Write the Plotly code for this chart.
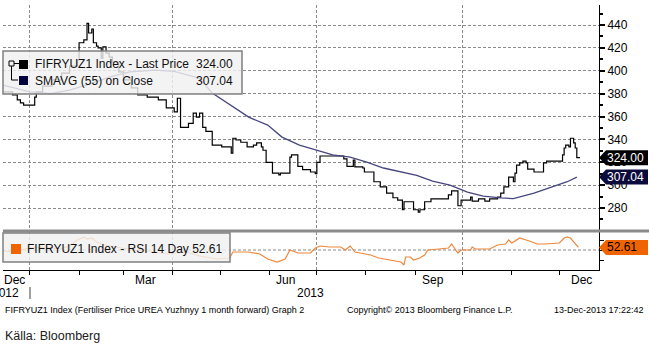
import plotly.graph_objects as go

# ---- data -------------------------------------------------------------
price_dates = [
    "2012-12-15", "2012-12-21", "2012-12-24", "2012-12-26", "2012-12-28",
    "2013-01-04", "2013-01-05", "2013-01-09", "2013-01-15", "2013-01-21",
    "2013-01-26", "2013-01-31", "2013-02-01", "2013-02-04", "2013-02-06",
    "2013-02-07", "2013-02-09", "2013-02-10", "2013-02-12", "2013-02-13",
    "2013-02-15", "2013-02-16", "2013-02-18", "2013-02-20", "2013-02-22",
    "2013-02-26", "2013-03-01", "2013-03-06", "2013-03-10", "2013-03-16",
    "2013-03-23", "2013-03-28", "2013-04-02", "2013-04-04", "2013-04-06",
    "2013-04-11", "2013-04-14", "2013-04-16", "2013-04-18", "2013-04-20",
    "2013-04-22", "2013-04-26", "2013-05-02", "2013-05-08", "2013-05-09",
    "2013-05-11", "2013-05-14", "2013-05-18", "2013-05-22", "2013-05-24",
    "2013-05-27", "2013-05-28", "2013-05-30", "2013-06-03", "2013-06-07",
    "2013-06-08", "2013-06-14", "2013-06-15", "2013-06-19", "2013-06-22",
    "2013-06-27", "2013-06-30", "2013-07-01", "2013-07-03", "2013-07-18",
    "2013-07-20", "2013-07-24", "2013-07-25", "2013-07-30", "2013-07-31",
    "2013-08-06", "2013-08-10", "2013-08-14", "2013-08-18", "2013-08-21",
    "2013-08-24", "2013-08-25", "2013-08-31", "2013-09-03", "2013-09-04",
    "2013-09-07", "2013-09-11", "2013-09-22", "2013-09-24", "2013-09-28",
    "2013-09-30", "2013-10-06", "2013-10-07", "2013-10-11", "2013-10-15",
    "2013-10-18", "2013-10-23", "2013-10-25", "2013-10-27", "2013-10-30",
    "2013-11-02", "2013-11-03", "2013-11-04", "2013-11-06", "2013-11-08",
    "2013-11-10", "2013-11-11", "2013-11-15", "2013-11-21", "2013-11-23",
    "2013-12-03", "2013-12-04", "2013-12-05", "2013-12-07", "2013-12-08",
    "2013-12-10", "2013-12-11", "2013-12-12", "2013-12-14",
]
price_vals = [
    381.5, 379, 374.5, 372, 370,
    377, 381.5, 386.5, 392, 398,
    404, 409.5, 424.5, 427, 441.5,
    433, 436.5, 424.5, 421.5, 420,
    411, 421, 415.5, 412, 407.5,
    399, 392, 385, 379, 377,
    374.5, 367.5, 364, 376, 350.5,
    354, 363, 359.5, 363, 350.5,
    347, 335, 333.5, 328, 341,
    339.5, 337.5, 333.5, 335, 337,
    333.5, 330.5, 320, 310.5, 309,
    310.5, 324.5, 326.5, 316.5, 313.5,
    311.5, 310, 320, 325.5, 323,
    316.5, 322, 316, 315, 311.5,
    303, 298.5, 293, 289, 287,
    278.5, 285.5, 278.5, 276.5, 278.5,
    285.5, 288, 291.5, 295, 282,
    287, 289.5, 286, 288, 286,
    288, 289.5, 293, 298.5, 307,
    303, 310.5, 317.5, 319.5, 321,
    319.5, 314, 311.5, 319.5, 321,
    326.5, 332.5, 335, 333.5, 341,
    337, 332.5, 324, 324,
]

sma_dates = [
    "2012-12-15", "2013-01-01", "2013-01-14", "2013-01-26", "2013-02-08",
    "2013-02-20", "2013-03-05", "2013-03-21", "2013-04-02", "2013-04-18",
    "2013-04-26", "2013-05-09", "2013-05-19", "2013-05-31", "2013-06-09",
    "2013-06-20", "2013-06-26", "2013-07-11", "2013-07-22", "2013-08-02",
    "2013-08-12", "2013-08-23", "2013-09-02", "2013-09-12", "2013-09-23",
    "2013-10-04", "2013-10-14", "2013-10-25", "2013-11-02", "2013-11-15",
    "2013-11-26", "2013-12-06", "2013-12-12",
]
sma_vals = [
    387.5, 381.5, 380, 383, 388.5,
    394.5, 399, 400.5, 399.5, 393.5,
    380.5, 368.5, 359.5, 352.5, 342,
    335, 332.5, 326.5, 324.5, 320,
    315, 311.5, 308.5, 303.5, 300,
    294, 290.5, 288.8, 288.3, 293,
    298.5, 303, 307.04,
]

rsi_dates = [
    "2012-12-15", "2012-12-21", "2012-12-26", "2013-01-01", "2013-01-10",
    "2013-01-20", "2013-01-26", "2013-01-31", "2013-02-04", "2013-02-06",
    "2013-02-09", "2013-02-12", "2013-02-17", "2013-02-25", "2013-03-07",
    "2013-03-17", "2013-03-28", "2013-04-10", "2013-04-18", "2013-04-29",
    "2013-05-07", "2013-05-09", "2013-05-19", "2013-05-26", "2013-05-31",
    "2013-06-06", "2013-06-11", "2013-06-14", "2013-06-19", "2013-06-27",
    "2013-06-30", "2013-07-03", "2013-07-09", "2013-07-16", "2013-07-19",
    "2013-07-22", "2013-07-25", "2013-08-04", "2013-08-09", "2013-08-23",
    "2013-08-25", "2013-08-26", "2013-08-29", "2013-08-31", "2013-09-04",
    "2013-09-07", "2013-09-09", "2013-09-16", "2013-09-22", "2013-09-24",
    "2013-09-28", "2013-09-30", "2013-10-06", "2013-10-07", "2013-10-09",
    "2013-10-18", "2013-10-23", "2013-10-28", "2013-10-30", "2013-11-01",
    "2013-11-06", "2013-11-12", "2013-11-17", "2013-11-22", "2013-12-01",
    "2013-12-04", "2013-12-06", "2013-12-08", "2013-12-11", "2013-12-13",
]
rsi_vals = [
    49, 48, 50, 52, 53,
    51, 54, 60, 63, 61,
    62, 58, 55, 53, 50,
    49, 46, 48, 44, 41,
    42, 48, 48, 46, 41,
    38, 41, 50, 47, 47,
    52, 54, 53, 53, 50,
    54, 48, 45, 42, 38,
    35, 43, 43, 40, 42,
    45, 50, 51, 52, 56,
    47, 50, 50, 53, 51,
    51, 55, 56, 60, 57,
    62, 59, 56, 56, 57,
    62, 63, 62, 57, 52.61,
]

last_price = 324.00
last_sma = 307.04
last_rsi = 52.61

price_ticks = [280, 300, 320, 340, 360, 380, 400, 420, 440]
quarter_starts = ["2013-01-01", "2013-04-01", "2013-07-01", "2013-10-01"]
other_month_starts = ["2013-02-01", "2013-03-01", "2013-05-01", "2013-06-01",
                      "2013-08-01", "2013-09-01", "2013-11-01", "2013-12-01"]
month_labels = ["Dec", "Mar", "Jun", "Sep", "Dec"]
month_label_dates = ["2012-12-22", "2013-03-15", "2013-06-11", "2013-09-12", "2013-12-15"]

# ---- geometry helpers (canvas pixels -> paper fractions) ---------------
W, H = 649, 349
ML, MR, MT, MB = 3, 50, 5, 79
PW, PH = W - ML - MR, H - MT - MB


def fx(px):
    return (px - ML) / PW


def fy(py):
    return (H - MB - py) / PH


FONT = "Liberation Sans, Arial, sans-serif"
GRID = "#8a8a8a"
DASH = "3px,2px"
SMA_COLOR = "#46467e"
RSI_COLOR = "#f0873a"

fig = go.Figure()
fig.add_trace(go.Scatter(x=price_dates, y=price_vals, mode="lines",
                         line=dict(color="#000000", width=1.2, shape="hv"),
                         xaxis="x", yaxis="y", hoverinfo="skip"))
fig.add_trace(go.Scatter(x=sma_dates, y=sma_vals, mode="lines",
                         line=dict(color=SMA_COLOR, width=1.3),
                         xaxis="x", yaxis="y", hoverinfo="skip"))
fig.add_trace(go.Scatter(x=rsi_dates, y=rsi_vals, mode="lines",
                         line=dict(color=RSI_COLOR, width=1.2),
                         xaxis="x2", yaxis="y2", hoverinfo="skip"))

xrange = ["2012-12-15", "2013-12-26"]

fig.update_layout(
    width=W, height=H, autosize=False,
    margin=dict(l=ML, r=MR, t=MT, b=MB),
    paper_bgcolor="white", plot_bgcolor="white",
    showlegend=False,
    font=dict(family=FONT, size=12, color="#000"),
    xaxis=dict(domain=[0, 1], anchor="y", range=xrange, type="date",
               tickmode="array", tickvals=quarter_starts, showticklabels=False,
               showgrid=True, gridcolor=GRID, griddash=DASH, gridwidth=1,
               showline=False, zeroline=False, ticks="", matches="x2"),
    yaxis=dict(domain=[fy(230), 1], anchor="x", side="right",
               range=[260.8, 457.5], tickmode="array", tickvals=price_ticks,
               ticktext=[str(v) for v in price_ticks],
               showgrid=True, gridcolor=GRID, griddash=DASH, gridwidth=1,
               showline=True, linecolor="#000", linewidth=1, zeroline=False,
               ticks="outside", ticklen=5, tickwidth=2, tickcolor="#000",
               minor=dict(dtick=10, ticks="outside", ticklen=3, tickcolor="#000",
                          showgrid=False),
               tickfont=dict(family=FONT, size=12, color="#000")),
    xaxis2=dict(domain=[0, 1], anchor="y2", range=xrange, type="date",
                tickmode="array", tickvals=quarter_starts, ticktext=[""] * 4,
                showgrid=True, gridcolor=GRID, griddash=DASH, gridwidth=1,
                showline=True, linecolor="#000", linewidth=1, zeroline=False,
                ticks="outside", ticklen=4, tickcolor="#000",
                minor=dict(tickmode="array", tickvals=other_month_starts,
                           ticks="outside", ticklen=4, tickcolor="#000",
                           showgrid=False)),
    yaxis2=dict(domain=[0, fy(232)], anchor="x2", side="right",
                range=[30, 68], tickmode="array", tickvals=[40, 50, 60],
                showticklabels=False, showgrid=False, zeroline=False,
                showline=True, linecolor="#000", linewidth=1,
                ticks="outside", ticklen=4, tickcolor="#000"),
)

shapes = []
# RSI mid line
shapes.append(dict(type="line", xref="paper", yref="y2", x0=0, x1=1, y0=50, y1=50,
                   line=dict(color=GRID, width=1, dash=DASH), layer="below"))
# panel separator
shapes.append(dict(type="line", xref="paper", yref="paper", x0=0, x1=fx(649),
                   y0=fy(231), y1=fy(231), line=dict(color="#8c8c8c", width=3)))

# legend boxes
shapes.append(dict(type="rect", xref="paper", yref="paper",
                   x0=fx(3), x1=fx(242), y0=fy(94), y1=fy(51),
                   fillcolor="rgba(240,240,240,0.82)",
                   line=dict(color="#808080", width=1.5), layer="above"))
shapes.append(dict(type="rect", xref="paper", yref="paper",
                   x0=fx(3), x1=fx(230), y0=fy(262), y1=fy(233),
                   fillcolor="rgba(240,240,240,0.82)",
                   line=dict(color="#808080", width=1.5), layer="above"))
# legend swatches
shapes.append(dict(type="rect", xref="paper", yref="paper",
                   x0=fx(19), x1=fx(28), y0=fy(69), y1=fy(60),
                   fillcolor="#000000", line=dict(width=0)))
shapes.append(dict(type="rect", xref="paper", yref="paper",
                   x0=fx(19), x1=fx(28), y0=fy(85), y1=fy(76),
                   fillcolor="#00003c", line=dict(width=0)))
shapes.append(dict(type="rect", xref="paper", yref="paper",
                   x0=fx(11), x1=fx(21), y0=fy(254), y1=fy(244),
                   fillcolor="#f06400", line=dict(width=0)))
# group bracket icon
shapes.append(dict(type="rect", xref="paper", yref="paper",
                   x0=fx(9), x1=fx(14), y0=fy(66), y1=fy(61),
                   fillcolor="rgba(0,0,0,0)", line=dict(color="#000", width=1)))
shapes.append(dict(type="path", xref="paper", yref="paper",
                   path="M {a},{b} L {a},{c} L {d},{c}".format(
                       a=fx(11.5), b=fy(66), c=fy(80), d=fx(18)),
                   line=dict(color="#000", width=1)))
shapes.append(dict(type="line", xref="paper", yref="paper",
                   x0=fx(14), x1=fx(19), y0=fy(63.5), y1=fy(63.5),
                   line=dict(color="#000", width=1)))

# year separator under the time axis
shapes.append(dict(type="line", xref="paper", yref="paper",
                   x0=fx(30), x1=fx(30), y0=fy(287), y1=fy(299),
                   line=dict(color="#404040", width=1)))

# last-value tags on the right axis
tag_path = "M 0,0 L 7,7.5 L 49,7.5 L 49,-7.5 L 7,-7.5 Z"
for val, yref, col in [(last_price, "y", "#000000"),
                       (last_sma, "y", "#0c0c3c"),
                       (last_rsi, "y2", "#f06400")]:
    shapes.append(dict(type="path", xref="paper", yref=yref,
                       xsizemode="pixel", ysizemode="pixel",
                       xanchor=1, yanchor=val, path=tag_path,
                       fillcolor=col, line=dict(width=0), layer="above"))

fig.update_layout(shapes=shapes)

ann = []


def text(x, y, s, size=12, anchor="left", color="#000", xref="paper", yref="paper",
         xshift=0):
    ann.append(dict(x=x, y=y, xref=xref, yref=yref, text=s, showarrow=False,
                    xanchor=anchor, yanchor="middle", xshift=xshift,
                    font=dict(family=FONT, size=size, color=color)))


# legend texts
text(fx(33), fy(64.5), "FIFRYUZ1 Index - Last Price", color="#101010")
text(fx(235), fy(64.5), f"{last_price:.2f}", anchor="right", color="#101010")
text(fx(33), fy(81), "SMAVG (55) on Close", color="#101010")
text(fx(235), fy(81), f"{last_sma:.2f}", anchor="right", color="#101010")
text(fx(25), fy(249), f"FIFRYUZ1 Index - RSI 14 Day {last_rsi:.2f}", color="#101010")

# tag values
text(1, last_price, f"{last_price:.2f}", color="#ffffff", yref="y", xshift=6)
text(1, last_sma, f"{last_sma:.2f}", color="#ffffff", yref="y", xshift=6)
text(1, last_rsi, f"{last_rsi:.2f}", color="#000000", yref="y2", xshift=6)

# time axis labels
for d, lab in zip(month_label_dates, month_labels):
    ann.append(dict(x=d, y=fy(280), xref="x2", yref="paper", text=lab,
                    showarrow=False, xanchor="center", yanchor="middle",
                    font=dict(family=FONT, size=12, color="#000")))
text(fx(21), fy(293), "2012", anchor="right")
text(fx(326), fy(293), "2013", anchor="right")

# footer
text(fx(3), fy(310), "FIFRYUZ1 Index (Fertiliser Price UREA Yuzhnyy 1 month forward) Graph 2",
     size=9)
text(fx(345), fy(310), "Copyright\u00a9 2013 Bloomberg Finance L.P.", size=9)
text(fx(552), fy(310), "13-Dec-2013 17:22:42", size=9)
text(fx(3), fy(336), "Källa: Bloomberg", size=12.5, color="#202020")

fig.update_layout(annotations=ann)

fig.write_html("out.html")
